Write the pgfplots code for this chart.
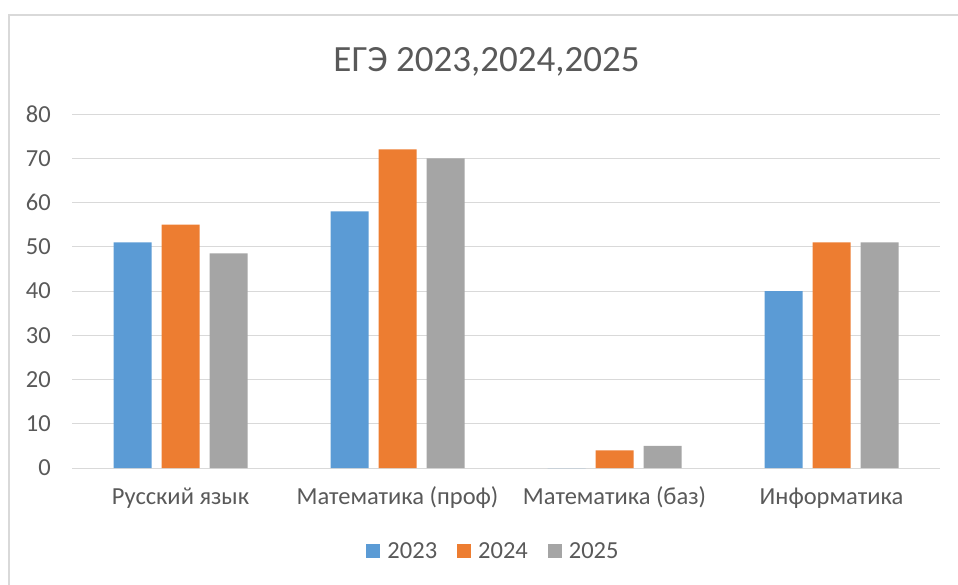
\documentclass[border=0pt]{standalone}
\usepackage{pgfplots}
\pgfplotsset{compat=1.18}
\usepackage{fontspec}
\setmainfont{Carlito}
\definecolor{cBlue}{HTML}{5B9BD5}
\definecolor{cOrange}{HTML}{ED7D31}
\definecolor{cGray}{HTML}{A5A5A5}
\definecolor{cText}{HTML}{595959}
\definecolor{cGrid}{HTML}{D9D9D9}
\begin{document}
\begin{tikzpicture}[x=1pt,y=1pt]
\useasboundingbox (0,0) rectangle (958,584);
\draw[cGrid, line width=1.2pt] (9,-5) -- (9,569) -- (965,569);
\node[font=\fontsize{37}{42}\selectfont, text=cText, anchor=center] at (486.5,522) {ЕГЭ 2023,2024,2025};
\begin{axis}[
  at={(72pt,116pt)}, anchor=south west,
  scale only axis, width=868pt, height=354pt,
  xmin=-0.5, xmax=3.5, ymin=0, ymax=80,
  ybar=10pt, bar width=38pt,
  xtick={0,1,2,3},
  xticklabels={Русский язык, Математика (проф), Математика (баз), Информатика},
  ytick={0,10,...,80},
  ymajorgrids, grid style={cGrid, line width=0.9pt},
  axis line style={draw=none},
  major tick length=0pt,
  /pgf/number format/assume math mode=true,
  ticklabel style={font=\fontsize{24.5}{28}\selectfont, text=cText, inner sep=0pt},
  yticklabel style={anchor=east, xshift=-21pt},
  xticklabel style={anchor=base, yshift=-36pt},
  legend columns=3,
  legend style={at={(axis description cs:0.4856,-0.2345)}, anchor=center, draw=none, fill=none,
    font=\fontsize{24.5}{28}\selectfont, text=cText, inner sep=0pt,
    /tikz/every odd column/.append style={column sep=5pt},
    /tikz/every even column/.append style={column sep=18pt}},
  legend image code/.code={\fill[#1] (0pt,-7pt) rectangle (14pt,7pt);},
]
\addplot[fill=cBlue, draw=none] coordinates {(0,51) (1,58) (2,0) (3,40)};
\addplot[fill=cOrange, draw=none] coordinates {(0,55) (1,72) (2,4) (3,51)};
\addplot[fill=cGray, draw=none] coordinates {(0,48.5) (1,70) (2,5) (3,51)};
\legend{2023,2024,2025}
\end{axis}
\end{tikzpicture}
\end{document}
